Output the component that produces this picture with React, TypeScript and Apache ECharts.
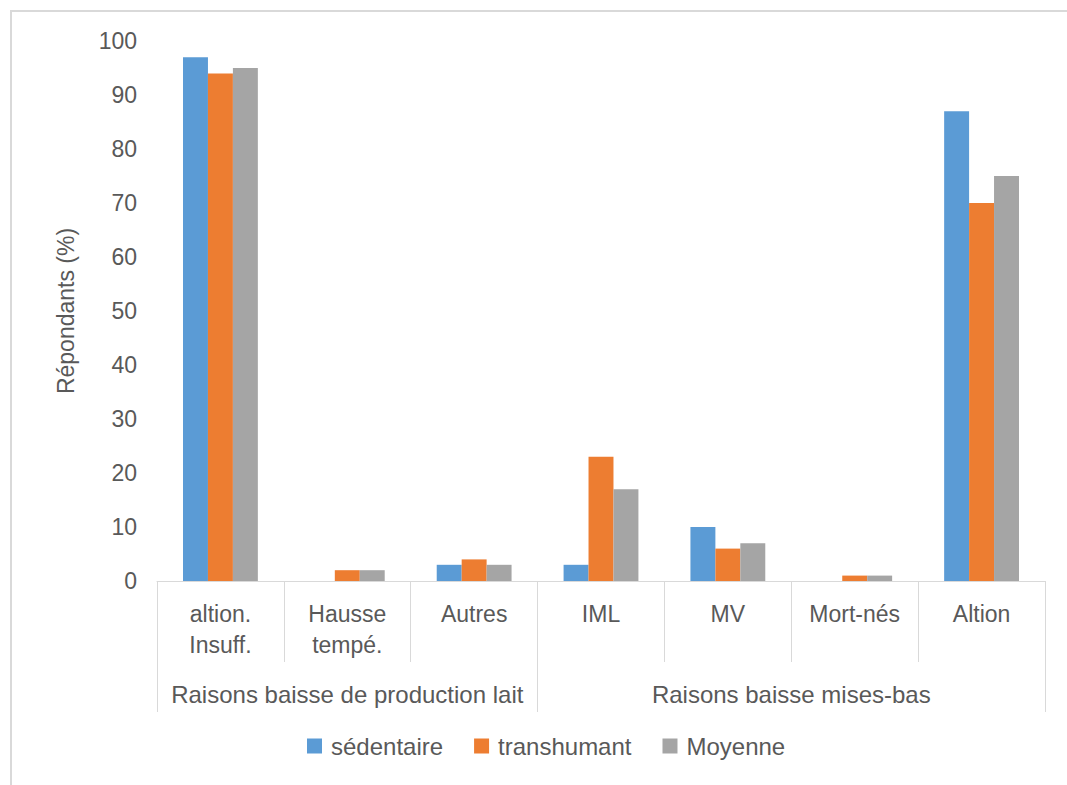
import React, { useEffect, useRef } from "react";
import * as echarts from "echarts";

// Sub-categories (first axis level) and their parent groups (second level)
const categories = [
  "altion.\nInsuff.",
  "Hausse\ntempé.",
  "Autres",
  "IML",
  "MV",
  "Mort-nés",
  "Altion",
];
const groupLabels = ["Raisons baisse de production lait", "Raisons baisse mises-bas"];
// Group boundaries and centers, in category units along the axis
const groupBounds = [0, 3, 7];
const groupCenters = [1.5, 5];

const seriesNames = ["sédentaire", "transhumant", "Moyenne"];
const sedentaire = [97, 0, 3, 3, 10, 0, 87];
const transhumant = [94, 2, 4, 23, 6, 1, 70];
const moyenne = [95, 2, 3, 17, 7, 1, 75];
const colors = ["#5b9bd5", "#ed7d31", "#a5a5a5"];

const yTicks = { min: 0, max: 100, interval: 10 };

const FONT = "'Liberation Sans', Arial, sans-serif";
const TEXT = "#595959";
const LINE = "#d9d9d9";

export default function App() {
  const ref = useRef<HTMLDivElement>(null);

  useEffect(() => {
    document.body.style.margin = "0";
    if (!ref.current) return;
    const chart = echarts.init(ref.current, undefined, { renderer: "svg" });
    const values = [sedentaire, transhumant, moyenne];

    chart.setOption({
      animation: false,
      backgroundColor: "#ffffff",
      textStyle: { fontFamily: FONT },
      graphic: [
        {
          type: "rect",
          shape: { x: 11, y: 11, width: 1100, height: 800 },
          style: { fill: "none", stroke: LINE, lineWidth: 2 },
          silent: true,
        },
      ],
      grid: { left: 157, right: 22, top: 41, bottom: 204 },
      legend: {
        left: 307,
        top: 734,
        padding: 0,
        itemWidth: 15,
        itemHeight: 15,
        itemGap: 31,
        icon: "rect",
        textStyle: { fontSize: 24, color: TEXT, fontFamily: FONT, padding: [0, 0, 0, 4] },
        data: seriesNames,
      },
      xAxis: [
        {
          type: "category",
          data: categories,
          axisLine: { show: true, lineStyle: { color: LINE, width: 1 } },
          axisTick: { show: true, length: 81, lineStyle: { color: LINE } },
          axisLabel: {
            interval: 0,
            margin: 17,
            fontSize: 23,
            lineHeight: 31,
            color: TEXT,
            fontFamily: FONT,
          },
          splitLine: { show: false },
        },
        {
          type: "value",
          position: "bottom",
          min: 0,
          max: 7,
          axisLine: { show: false },
          axisTick: {
            show: true,
            length: 131,
            customValues: groupBounds,
            lineStyle: { color: LINE },
          },
          axisLabel: {
            customValues: groupCenters,
            margin: 101,
            fontSize: 24,
            color: TEXT,
            fontFamily: FONT,
            formatter: (v: number) => {
              const i = groupCenters.indexOf(v);
              return i >= 0 ? groupLabels[i] : "";
            },
          },
          splitLine: { show: false },
        },
      ],
      yAxis: {
        type: "value",
        min: yTicks.min,
        max: yTicks.max,
        interval: yTicks.interval,
        name: "Répondants (%)",
        nameLocation: "middle",
        nameGap: 80,
        nameRotate: 90,
        nameTextStyle: { fontSize: 23, color: TEXT, fontFamily: FONT },
        axisLine: { show: false },
        axisTick: { show: false },
        splitLine: { show: false },
        axisLabel: { fontSize: 23, color: TEXT, fontFamily: FONT, margin: 20 },
      },
      series: seriesNames.map((name, i) => ({
        name,
        type: "bar",
        xAxisIndex: 0,
        data: values[i],
        itemStyle: { color: colors[i] },
        barGap: "0%",
        barCategoryGap: "41%",
      })),
    });

    return () => chart.dispose();
  }, []);

  return <div ref={ref} style={{ width: 1067, height: 785 }} />;
}
